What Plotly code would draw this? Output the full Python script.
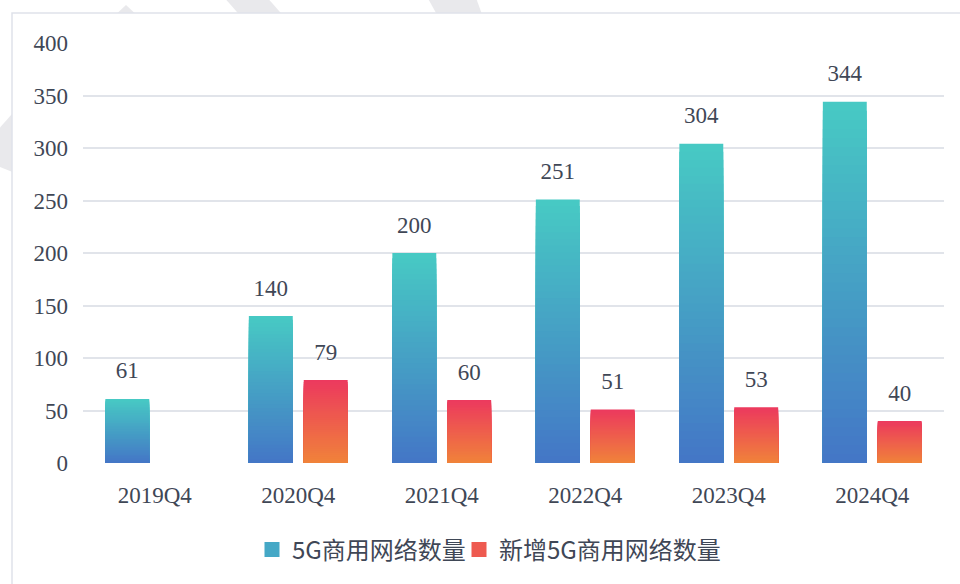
import plotly.graph_objects as go

categories = ["2019Q4", "2020Q4", "2021Q4", "2022Q4", "2023Q4", "2024Q4"]
networks_total = [61, 140, 200, 251, 304, 344]
networks_new = [None, 79, 60, 51, 53, 40]
series_names = ["5G商用网络数量", "新增5G商用网络数量"]
y_ticks = [0, 50, 100, 150, 200, 250, 300, 350, 400]

# gradient colours (top -> bottom)
grad_total = ("#47CAC4", "#4476C6")
grad_new = ("#EC395E", "#F0833A")
legend_colors = ["#45A8C6", "#EE5A50"]

N_SLICES = 40
TEXT_COLOR = "#3f4756"
SERIF = "Liberation Serif, Times New Roman, serif"
W, H = 960, 584
M_L, M_R, M_T, M_B = 83, 16, 43, 121


def hex2rgb(h):
    h = h.lstrip("#")
    return tuple(int(h[i:i + 2], 16) for i in (0, 2, 4))


def mix(c_top, c_bot, t):
    a, b = hex2rgb(c_top), hex2rgb(c_bot)
    return "rgb(%d,%d,%d)" % tuple(round(a[i] + (b[i] - a[i]) * t) for i in range(3))


fig = go.Figure()

# gradient bars: overlaid bars from 0 up to each slice top, tallest first
for vals, grad, group in [(networks_total, grad_total, "s1"), (networks_new, grad_new, "s2")]:
    for k in range(N_SLICES - 1, -1, -1):
        t = 1 - (k + 0.5) / N_SLICES  # k=0 bottom
        fig.add_trace(go.Bar(
            x=categories,
            y=[None if v is None else v * (k + 1) / N_SLICES for v in vals],
            offsetgroup=group,
            marker=dict(color=mix(grad[0], grad[1], t), line=dict(width=0)),
            showlegend=False,
            hoverinfo="skip",
        ))

# legend entries
for name, col, group, lw in zip(series_names, legend_colors, ["s1", "s2"], [162, None]):
    fig.add_trace(go.Scatter(
        x=categories, y=[None] * len(categories), name=name, offsetgroup=group,
        mode="markers", marker=dict(color=col, symbol="square", size=15),
        legendwidth=lw,
    ))

# value labels
for vals, group in [(networks_total, "s1"), (networks_new, "s2")]:
    fig.add_trace(go.Scatter(
        x=categories, y=vals, offsetgroup=group,
        mode="markers+text",
        text=["" if v is None else str(v) for v in vals],
        textposition="top center",
        textfont=dict(family=SERIF, size=23, color=TEXT_COLOR),
        marker=dict(size=22, color="rgba(0,0,0,0)"),
        showlegend=False, hoverinfo="skip", cliponaxis=False,
    ))

pw = W - M_L - M_R
ph = H - M_T - M_B


def px(x):
    return (x - M_L) / pw


def py(y):
    return (H - M_B - y) / ph


def path(pts):
    return "M " + " L ".join("%f,%f" % (px(x), py(y)) for x, y in pts) + " Z"


wm = "#e9e9ec"
shapes = [
    dict(type="path", xref="paper", yref="paper", layer="below", line=dict(width=0), fillcolor=wm,
         path=path([(110, 20), (126, 5), (142, 20)])),
    dict(type="path", xref="paper", yref="paper", layer="below", line=dict(width=0), fillcolor=wm,
         path=path([(222, -5), (265, -5), (287, 20), (244, 20)])),
    dict(type="path", xref="paper", yref="paper", layer="below", line=dict(width=0), fillcolor=wm,
         path=path([(426, -5), (475, -5), (484, 20), (440, 20)])),
    dict(type="path", xref="paper", yref="paper", layer="below", line=dict(width=0), fillcolor=wm,
         path=path([(-5, 133), (20, 105), (20, 175), (-5, 165)])),
    dict(type="rect", xref="paper", yref="paper", layer="below",
         x0=px(12), x1=px(975), y0=py(13), y1=py(600),
         line=dict(color="#dfe2ea", width=1.5), fillcolor="white"),
]

fig.update_layout(
    width=W, height=H,
    margin=dict(l=M_L, r=M_R, t=M_T, b=M_B, autoexpand=False),
    paper_bgcolor="white",
    plot_bgcolor="rgba(0,0,0,0)",
    barmode="group",
    bargap=0.235,
    bargroupgap=0.2,
    scattermode="group",
    scattergap=0.235,
    shapes=shapes,
    showlegend=True,
    legend=dict(
        orientation="h", x=px(252), xanchor="left", y=py(550), yanchor="middle",
        font=dict(family="Noto Sans CJK SC", size=24, color=TEXT_COLOR),
        bgcolor="rgba(0,0,0,0)", itemclick=False, itemdoubleclick=False,
    ),
    xaxis=dict(
        type="category", showgrid=False, showline=False, zeroline=False,
        tickfont=dict(family=SERIF, size=23, color=TEXT_COLOR),
        ticks="", ticklabelstandoff=16,
    ),
    yaxis=dict(
        range=[0, 400], tickvals=y_ticks, showgrid=True, gridcolor="#e1e4ea", gridwidth=1.5,
        zeroline=False, showline=False,
        tickfont=dict(family=SERIF, size=23, color=TEXT_COLOR),
        ticks="", ticklabelstandoff=14,
    ),
    font=dict(family=SERIF, color=TEXT_COLOR),
)

fig.write_html(
    "out.html",
    config={"displayModeBar": False},
    post_script="document.body.style.margin='0';document.body.style.overflow='hidden';",
)
